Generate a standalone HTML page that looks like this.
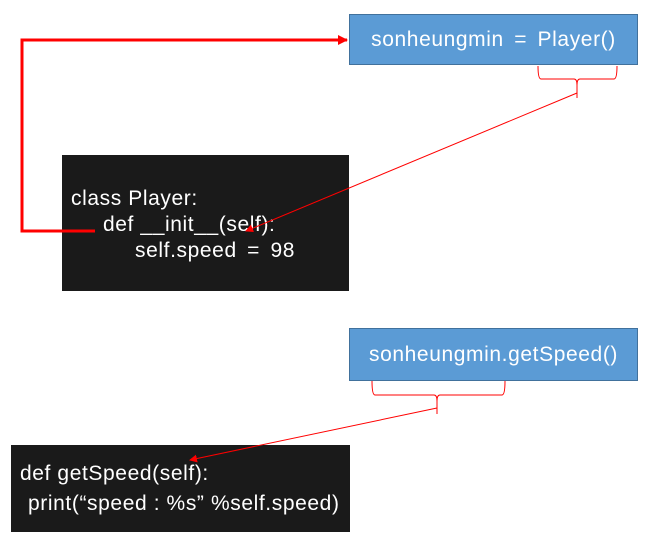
<!DOCTYPE html>
<html><head><meta charset="utf-8"><style>
body{margin:0;width:648px;height:539px;background:#fff;position:relative;overflow:hidden;font-family:"Liberation Sans","Noto Sans CJK KR",sans-serif;}
.b{position:absolute;background:#5b9bd5;border:1px solid #41719c;color:#fff;font-size:21px;letter-spacing:0.6px;display:flex;align-items:center;justify-content:center;box-sizing:border-box;}
.k{position:absolute;background:#1a1a1a;color:#fff;font-size:21px;letter-spacing:0.6px;}
.t{position:absolute;white-space:nowrap;line-height:24px;}
</style></head><body>
<div class="b" style="left:349px;top:14px;width:289px;height:51px;word-spacing:4px;">sonheungmin = Player()</div>
<div class="k" style="left:62px;top:155px;width:287px;height:136px;">
<div class="t" style="left:9px;top:32px;">class Player:</div>
<div class="t" style="left:41px;top:58px;">def __init__(self):</div>
<div class="t" style="left:73px;top:84px;word-spacing:4px;">self.speed = 98</div>
</div>
<div class="b" style="left:349px;top:328px;width:289px;height:53px;">sonheungmin.getSpeed()</div>
<div class="k" style="left:11px;top:445px;width:339px;height:87px;">
<div class="t" style="left:9px;top:17px;">def getSpeed(self):</div>
<div class="t" style="left:17px;top:47px;">print(“speed : %s” %self.speed)</div>
</div>
<svg width="648" height="539" style="position:absolute;left:0;top:0">
<defs><marker id="a" markerWidth="8" markerHeight="8" refX="7" refY="4" orient="auto" markerUnits="userSpaceOnUse"><path d="M0,0L8,4L0,8z" fill="red"/></marker>
<marker id="a2" markerWidth="10" markerHeight="10" refX="9" refY="5" orient="auto" markerUnits="userSpaceOnUse"><path d="M0,0L10,5L0,10z" fill="red"/></marker></defs>
<polyline points="95,231 22,231 22,40 347,40" fill="none" stroke="red" stroke-width="3" marker-end="url(#a2)"/>
<path d="M538,66 Q538,79 541,79 L574,79 Q577,79 577,85 Q577,79 580,79 L614,79 Q617,79 617,66 M577,85 L577,98" fill="none" stroke="red" stroke-width="1"/>
<line x1="577" y1="93" x2="246" y2="231" stroke="red" stroke-width="1" marker-end="url(#a)"/>
<path d="M372,381 Q372,395 375,395 L434,395 Q437,395 437,401 Q437,395 440,395 L502,395 Q505,395 505,381 M437,401 L437,414" fill="none" stroke="red" stroke-width="1"/>
<line x1="437" y1="408" x2="190" y2="460" stroke="red" stroke-width="1" marker-end="url(#a)"/>
</svg>
</body></html>
